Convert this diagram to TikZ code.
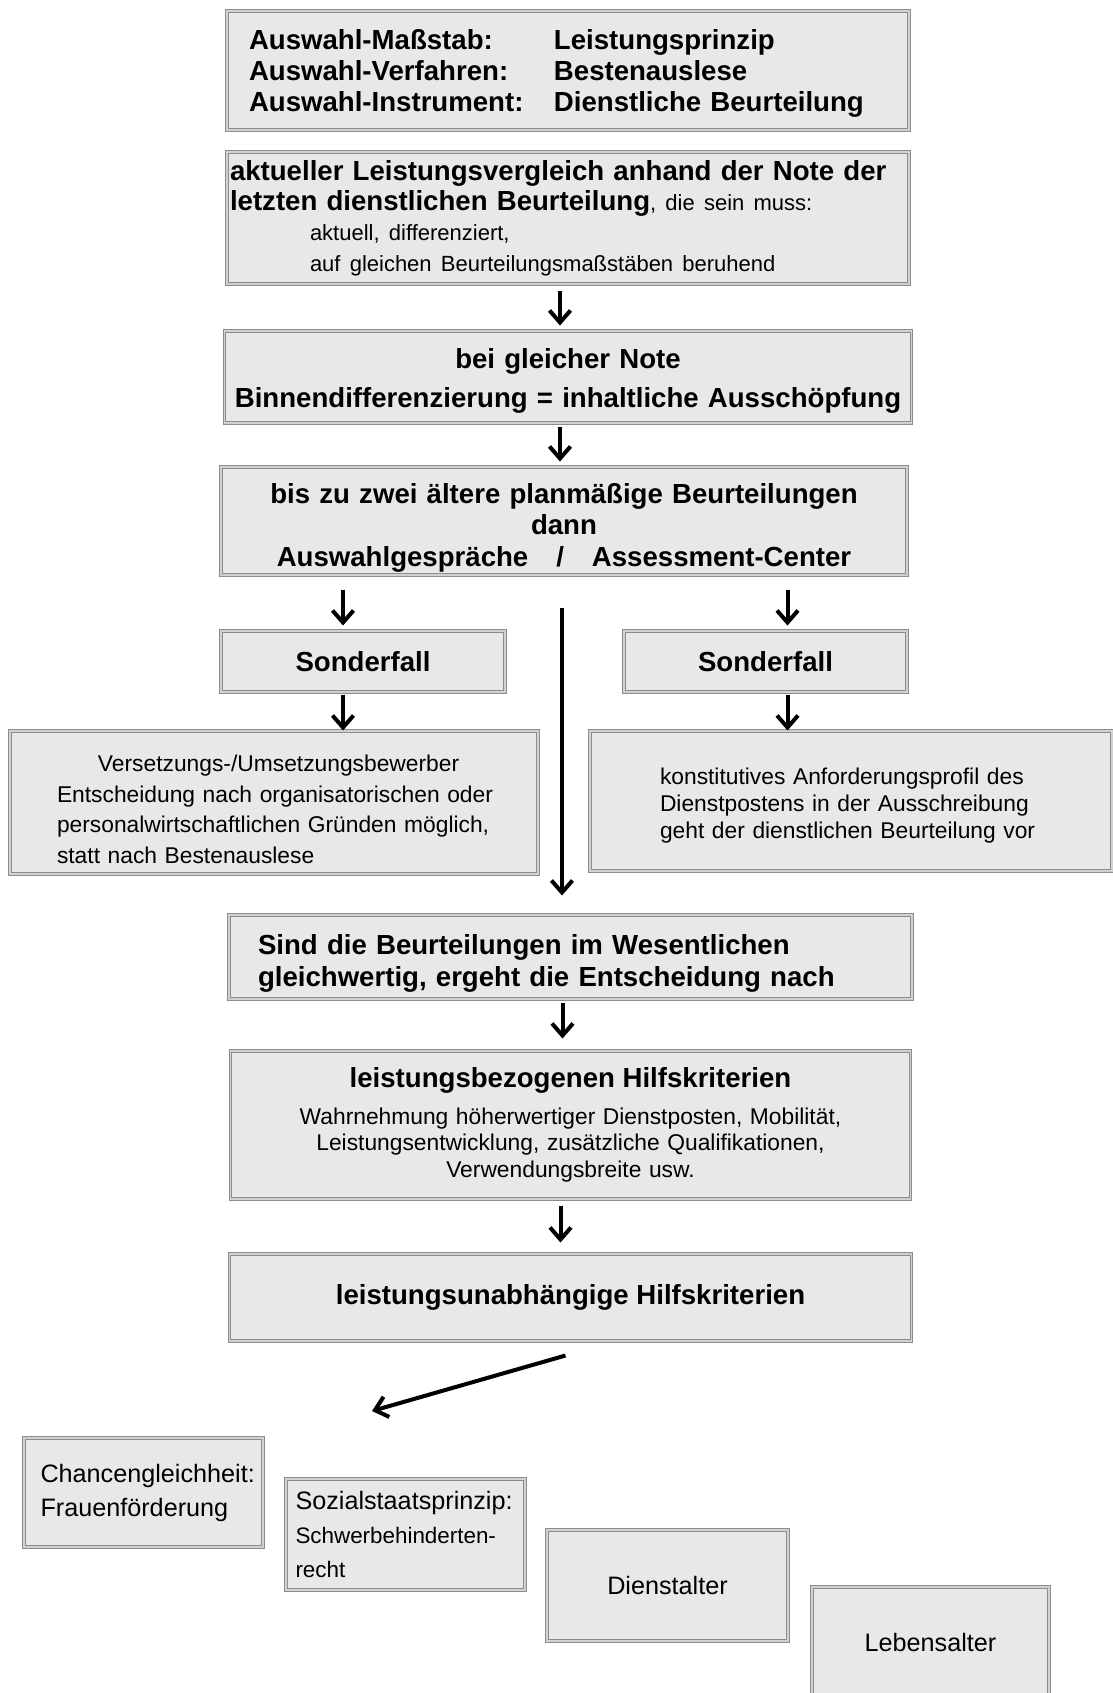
\documentclass[tikz,border=0pt]{standalone}
\usepackage{fontspec}
\setmainfont{Liberation Sans}
\usetikzlibrary{arrows.meta,positioning}

\begin{document}
\begin{tikzpicture}[->, >={Straight Barb[length=6pt,width=10.5pt]}, line width=2pt, x=0.5pt, y=-0.5pt]
        \tikzstyle{box}=[draw=black!45, double=black!18, double distance=0.8pt, line width=0.5pt, fill=black!9, text=black, inner ysep=0pt]
        \tikzstyle{head}=[font=\fontsize{13.8}{15.5}\selectfont\bfseries]
        \tikzstyle{body}=[font=\fontsize{11.4}{15.3}\selectfont]
        \tikzstyle{crit}=[box, minimum height=55.5pt, minimum width=119.5pt, font=\fontsize{12.6}{17}\selectfont]
        \clip (0,0) rectangle (1113,1693);
        % main column
        \node[box, head, minimum width=341pt, minimum height=59.5pt, text width=319pt, inner xsep=11pt, align=left] (mass) at (568,70.5)
            {\rule{0pt}{13.3pt}\makebox[152.5pt][l]{Auswahl-Maßstab:}Leistungsprinzip\\
             \makebox[152.5pt][l]{Auswahl-Verfahren:}Bestenauslese\\
             \makebox[152.5pt][l]{Auswahl-Instrument:}Dienstliche Beurteilung};
        \node[box, minimum width=341pt, minimum height=66pt, text width=338pt, inner xsep=1.5pt, align=left,
              font=\fontsize{13.8}{15.2}\selectfont] (note) [below=10.5pt of mass]
            {{\bfseries aktueller Leistungsvergleich anhand der Note der\\
             letzten dienstlichen Beurteilung}{\fontsize{11}{15}\selectfont, die sein muss:}\\
             {\fontsize{11}{15}\selectfont\hspace*{40pt}aktuell, differenziert,\\
             \hspace*{40pt}auf gleichen Beurteilungsmaßstäben beruhend}};
        \node[box, head, minimum width=343.5pt, minimum height=46pt, text width=335pt, inner xsep=4pt, align=center,
              font=\fontsize{13.8}{19.5}\selectfont\bfseries] (binnen) [below=23pt of note]
            {\rule{0pt}{13.8pt}bei gleicher Note\\ Binnendifferenzierung = inhaltliche Ausschöpfung};
        \node[box, head, minimum width=343pt, minimum height=54pt, text width=335pt, inner xsep=4pt, align=center,
              font=\fontsize{13.8}{15.75}\selectfont\bfseries] (aelter) at (564,521)
            {\rule{0pt}{16.5pt}bis zu zwei ältere planmäßige Beurteilungen\\ dann\\
             Auswahlgespräche\hspace{14pt}/\hspace{14pt}Assessment-Center};
        % Sonderfaelle
        \node[box, head, minimum width=142pt, minimum height=30.5pt] (sonderL) at (363,661.5) {Sonderfall};
        \node[box, head, minimum width=141.5pt, minimum height=30.5pt] (sonderR) at (765.5,661.5) {Sonderfall};
        \node[box, body, minimum width=264pt, minimum height=71.5pt, text width=246pt, inner xsep=9pt, align=left] (versetz) at (274,802.5)
            {\rule{0pt}{15pt}\hspace*{35pt}Versetzungs-/Umsetzungsbewerber\\
             \hspace*{14.5pt}Entscheidung nach organisatorischen oder\\
             \hspace*{14.5pt}personalwirtschaftlichen Gründen möglich,\\
             \hspace*{14.5pt}statt nach Bestenauslese};
        \node[box, body, minimum width=261pt, minimum height=70pt, text width=243pt, inner xsep=9pt, align=left,
              font=\fontsize{11.4}{13.5}\selectfont] (profil) at (851,801)
            {\rule{0pt}{12.9pt}\hspace*{26pt}konstitutives Anforderungsprofil des\\
             \hspace*{26pt}Dienstpostens in der Ausschreibung\\
             \hspace*{26pt}geht der dienstlichen Beurteilung vor};
        % Hilfskriterien
        \node[box, minimum width=341.5pt, minimum height=42pt, text width=312.5pt, inner xsep=14.5pt, align=left,
              font=\fontsize{13.8}{15.75}\selectfont\bfseries] (gleich) at (570.5,957)
            {\rule{0pt}{16.5pt}Sind die Beurteilungen im Wesentlichen\\ gleichwertig, ergeht die Entscheidung nach};
        \node[box, minimum width=340pt, minimum height=74pt, text width=330pt, inner xsep=5pt, align=center,
              font=\fontsize{11.4}{13.3}\selectfont] (bezogen) [below=25.5pt of gleich]
            {{\fontsize{13.8}{13.3}\selectfont\bfseries leistungsbezogenen Hilfskriterien}\\[5pt]
             Wahrnehmung höherwertiger Dienstposten, Mobilität,\\
             Leistungsentwicklung, zusätzliche Qualifikationen,\\
             Verwendungsbreite usw.};
        \node[box, head, minimum width=341pt, minimum height=43.5pt] (unabh) [below=27pt of bezogen]
            {leistungsunabhängige Hilfskriterien};
        \coordinate (fan) at (372,1411);
        % einzelne Kriterien
        \node[crit, minimum height=54.5pt, text width=109pt, inner xsep=5pt, align=left] (chancen) at (143.5,1492.5)
            {\mbox{\hspace*{3pt}Chancengleichheit:}\\ \hspace*{3pt}Frauenförderung};
        \node[crit, text width=110pt, inner xsep=4.5pt, align=left, font=\fontsize{11.2}{16.8}\selectfont] (sozial) at (405.5,1534.5)
            {{\fontsize{12.6}{16.8}\selectfont Sozialstaatsprinzip:}\\ Schwerbehinderten-\\ recht};
        \node[crit, minimum width=120.5pt] (dienst) at (667.5,1585.5) {Dienstalter};
        \node[crit, minimum width=118.5pt, minimum height=55pt] (leben) at (930.5,1642) {Lebensalter};
        % Pfeile
        \draw[shorten <=3pt, shorten >=2.5pt] ([xshift=-4pt]note.south) -- ([xshift=-4pt]note.south |- binnen.north);
        \draw[shorten <=1.5pt, shorten >=2.5pt] ([xshift=-4pt]binnen.south) -- ([xshift=-4pt]binnen.south |- aelter.north);
        \draw[shorten <=7pt, shorten >=2.5pt] ([xshift=-10pt]sonderL.north |- aelter.south) -- ([xshift=-10pt]sonderL.north);
        \draw[shorten <=7pt, shorten >=2.5pt] ([xshift=11pt]sonderR.north |- aelter.south) -- ([xshift=11pt]sonderR.north);
        \draw[shorten <=1pt] ([xshift=-10pt]sonderL.south) -- ([xshift=-10pt]sonderL.south |- versetz.north);
        \draw[shorten <=1pt] ([xshift=11pt]sonderR.south) -- ([xshift=11pt]sonderR.south |- profil.north);
        \draw[shorten <=16pt, shorten >=9.5pt] ([xshift=-1pt]aelter.south) -- ([xshift=-1pt]aelter.south |- gleich.north);
        \draw[shorten <=1.5pt, shorten >=6pt] ([xshift=-4pt]gleich.south) -- ([xshift=-4pt]gleich.south |- bezogen.north);
        \draw[shorten <=3pt, shorten >=5.5pt] ([xshift=-5pt]bezogen.south) -- ([xshift=-5pt]bezogen.south |- unabh.north);
        \draw ([shift={(-2.5pt,-7pt)}]unabh.south) -- (fan);
\end{tikzpicture}
\end{document}
